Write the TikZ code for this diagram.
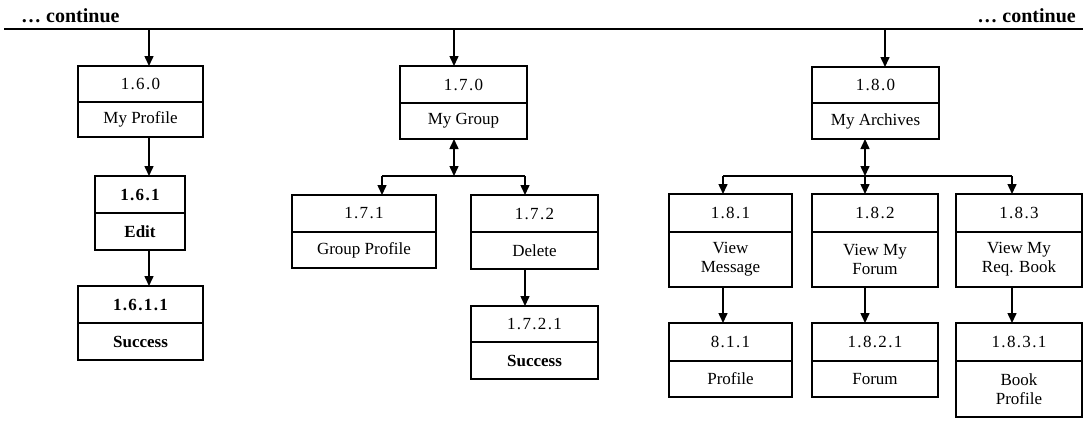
\documentclass[tikz,border=0pt]{standalone}
\usepackage{fontspec}
\setmainfont{Liberation Serif}
\newfontfamily\numfont[LetterSpace=8]{Liberation Serif}
\usetikzlibrary{arrows.meta}
\tikzset{
  cell/.style={draw, line width=1.5pt, inner sep=0pt, outer sep=0pt, align=center,
    font=\fontsize{17}{19}\selectfont},
  conn/.style={line width=1.5pt},
  arr/.style={conn, -{Triangle[width=9pt,length=10pt]}},
  dbl/.style={conn, {Triangle[width=9pt,length=10pt]}-{Triangle[width=9pt,length=10pt]}},
  cont/.style={font=\fontsize{20}{22}\selectfont\bfseries, inner sep=0pt}
}
\newcommand\twobox[8]{%
  \node[cell, minimum width=#4pt, minimum height=#5pt, anchor=north west] (#1) at (#2,-#3) {\numfont #7};
  \node[cell, minimum width=#4pt, minimum height=#6pt, anchor=north] (#1n) at (#1.south) {#8};}
\begin{document}
\begin{tikzpicture}[x=1pt,y=1pt]
\useasboundingbox (0,0) rectangle (1086,-421);
% top line
\coordinate (L) at (4,-29);
\coordinate (R) at (1083,-29);
\draw[conn] (L) -- (R);
\node[cont, anchor=base west] (cl) at (21,-22) {\dots\ continue};
\node[cont, anchor=base east] (cr) at (1076,-22) {\dots\ continue};
% column 1.6
\twobox{b160}{78}{66}{125}{36}{35}{1.6.0}{My Profile}
\twobox{b161}{95}{176}{90}{37}{37}{\bfseries 1.6.1}{\bfseries Edit}
\twobox{b1611}{78}{286}{125}{37}{37}{\bfseries 1.6.1.1}{\bfseries Success}
\coordinate (x16) at (149,0);
\draw[arr] (L -| x16) -- (b160.north -| x16);
\draw[arr] (b160n.south -| x16) -- (b161.north -| x16);
\draw[arr] (b161n.south -| x16) -- (b1611.north -| x16);
% column 1.7
\twobox{b170}{400}{66}{127}{37}{36}{1.7.0}{My Group}
\twobox{b171}{292}{195}{144}{37}{36}{1.7.1}{Group Profile}
\twobox{b172}{471}{195}{127}{37}{37}{1.7.2}{Delete}
\twobox{b1721}{471}{306}{127}{36}{37}{1.7.2.1}{\bfseries Success}
\coordinate (J7) at (454,-176);
\coordinate (J7a) at (382,-176);
\coordinate (J7b) at (525,-176);
\draw[arr] (L -| J7) -- (b170.north -| J7);
\draw[dbl] (b170n.south -| J7) -- (J7);
\draw[conn] (J7a) -- (J7b);
\draw[arr] (J7a) -- (b171.north -| J7a);
\draw[arr] (J7b) -- (b172.north -| J7b);
\draw[arr] (b172n.south -| J7b) -- (b1721.north -| J7b);
% column 1.8
\twobox{b180}{812}{67}{127}{36}{36}{1.8.0}{My Archives}
\twobox{b181}{669}{194}{123}{38}{55}{1.8.1}{View\\Message}
\twobox{b182}{812}{194}{126}{38}{55}{1.8.2}{View My\\Forum}
\twobox{b183}{956}{194}{126}{38}{55}{1.8.3}{View My\\Req. Book}
\twobox{b811}{669}{323}{123}{38}{36}{8.1.1}{Profile}
\twobox{b1821}{812}{323}{126}{38}{36}{1.8.2.1}{Forum}
\twobox{b1831}{956}{323}{126}{38}{56}{1.8.3.1}{Book\\Profile}
\coordinate (T8) at (885,0);
\coordinate (J8) at (865,-176);
\coordinate (J8a) at (723,-176);
\coordinate (J8c) at (1012,-176);
\draw[arr] (L -| T8) -- (b180.north -| T8);
\draw[dbl] (b180n.south -| J8) -- (J8);
\draw[conn] (J8a) -- (J8c);
\draw[arr] (J8a) -- (b181.north -| J8a);
\draw[arr] (J8) -- (b182.north -| J8);
\draw[arr] (J8c) -- (b183.north -| J8c);
\draw[arr] (b181n.south -| J8a) -- (b811.north -| J8a);
\draw[arr] (b182n.south -| J8) -- (b1821.north -| J8);
\draw[arr] (b183n.south -| J8c) -- (b1831.north -| J8c);
\end{tikzpicture}
\end{document}
